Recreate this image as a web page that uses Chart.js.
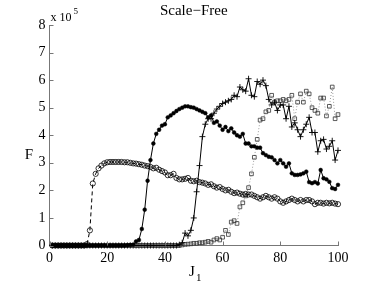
<!DOCTYPE html>
<html>
<head>
<meta charset="utf-8">
<script src="https://cdn.jsdelivr.net/npm/chart.js@4/dist/chart.umd.min.js"></script>
<style>
  html, body { margin: 0; padding: 0; background: #fff; }
  #wrap { width: 374px; height: 282px; }
</style>
</head>
<body>
<div id="wrap"><canvas id="chart" width="374" height="282"></canvas></div>
<script>
// F values in units of 1e5, one per J1 = 1..100
const jValues = Array.from({ length: 100 }, (_, i) => i + 1);

const circleSeries = [
    0, 0, 0, 0, 0, 0, 0, 0, 0, 0,
    0, 0, 0.05, 0.55, 2.25, 2.6, 2.8, 2.9, 2.98, 3.02,
    3.03, 3.03, 3.03, 3.03, 3.03, 3.02, 3.02, 3.0, 2.98, 2.97,
    2.95, 2.93, 2.9, 2.88, 2.85, 2.8, 2.82, 2.75, 2.7, 2.65,
    2.55, 2.55, 2.6, 2.45, 2.4, 2.4, 2.42, 2.45, 2.35, 2.33,
    2.35, 2.3, 2.28, 2.25, 2.2, 2.22, 2.15, 2.1, 2.12, 2.05,
    2.0, 2.02, 1.95, 1.9, 1.92, 1.88, 1.85, 1.87, 1.85, 1.85,
    1.8, 1.75, 1.7, 1.75, 1.8, 1.75, 1.7, 1.75, 1.7, 1.6,
    1.55, 1.6, 1.65, 1.7, 1.65, 1.6, 1.65, 1.6, 1.65, 1.65,
    1.6, 1.5, 1.55, 1.55, 1.52, 1.55, 1.53, 1.55, 1.52, 1.5
];

const dotSeries = [
    0, 0, 0, 0, 0, 0, 0, 0, 0, 0,
    0, 0, 0, 0, 0, 0, 0, 0, 0, 0,
    0, 0, 0, 0, 0, 0, 0.01, 0.02, 0.03, 0.15,
    0.2, 0.6, 1.3, 2.35, 3.1, 3.7, 4.05, 4.2, 4.35, 4.4,
    4.65, 4.72, 4.8, 4.88, 4.95, 5.0, 5.05, 5.05, 5.02, 5.0,
    4.95, 4.9, 4.85, 4.8, 4.65, 4.72, 4.45, 4.5, 4.35, 4.2,
    4.3, 4.15, 4.25, 4.1, 4.0, 3.95, 4.05, 3.7, 3.7, 3.6,
    3.6, 3.55, 3.55, 3.35, 3.28, 3.22, 3.2, 3.1, 2.98, 3.1,
    2.98, 2.86, 2.98, 2.62, 2.56, 2.56, 2.58, 2.62, 2.68, 2.3,
    2.26, 2.3, 2.25, 2.74, 2.44, 2.4, 2.31, 2.08, 2.05, 2.2
];

const plusSeries = [
    0, 0, 0, 0, 0, 0, 0, 0, 0, 0,
    0, 0, 0, 0, 0, 0, 0, 0, 0, 0,
    0, 0, 0, 0, 0, 0, 0, 0, 0, 0,
    0, 0, 0, 0, 0, 0, 0, 0, 0, 0,
    0, 0, 0, 0, 0.03, 0.1, 0.45, 0.35, 0.55, 1.0,
    1.95, 2.9, 3.95, 4.4, 4.6, 4.6, 4.8, 4.95, 5.05, 5.15,
    5.2, 5.25, 5.3, 5.45, 5.4, 5.75, 5.65, 5.6, 6.05, 5.45,
    5.4, 5.95, 5.85, 6.0, 5.8, 5.3, 5.1, 5.2, 4.9, 5.1,
    5.1, 4.6, 5.05, 4.3, 4.45, 4.2, 3.95, 4.2, 4.4, 4.65,
    4.1, 4.1, 3.4, 3.8, 3.85, 3.5, 3.6, 3.8, 3.1, 3.45
];

const squareSeries = [
    0, 0, 0, 0, 0, 0, 0, 0, 0, 0,
    0, 0, 0, 0, 0, 0, 0, 0, 0, 0,
    0, 0, 0, 0, 0, 0, 0, 0, 0, 0,
    0, 0, 0, 0, 0, 0, 0, 0, 0, 0,
    0, 0, 0, 0, 0, 0.02, 0.04, 0.05, 0.06, 0.08,
    0.08, 0.1, 0.1, 0.12, 0.15, 0.12, 0.2, 0.25, 0.2, 0.3,
    0.55, 0.4, 0.85, 0.9, 0.8, 1.4, 1.55, 1.8, 2.1, 2.6,
    3.2, 3.85, 4.55, 4.6, 4.85, 4.9, 5.45, 5.2, 5.25, 5.25,
    5.3, 5.25, 5.3, 5.45, 4.6, 5.2, 5.5, 5.2, 5.6, 5.5,
    5.0, 4.9, 4.8, 5.35, 5.35, 4.7, 5.05, 5.75, 4.6, 4.75
];

const xTicks = [0, 20, 40, 60, 80, 100];
const yTicks = [0, 1, 2, 3, 4, 5, 6, 7, 8];

const SERIF = "'Liberation Serif', 'DejaVu Serif', serif";
const AXIS_GREY = "#777";

function toPoints(values) {
    return values.map((v, i) => ({ x: jValues[i], y: v }));
}

// MATLAB style: inward tick marks and the axis annotations
const matlabDecor = {
    id: "matlabDecor",
    afterDraw(chart) {
        const ctx = chart.ctx;
        const xs = chart.scales.x;
        const ys = chart.scales.y;
        const area = chart.chartArea;
        ctx.save();
        ctx.strokeStyle = AXIS_GREY;
        ctx.lineWidth = 1;
        ctx.beginPath();
        xTicks.forEach((t) => {
            const px = Math.round(xs.getPixelForValue(t)) + 0.5;
            ctx.moveTo(px, area.bottom);
            ctx.lineTo(px, area.bottom - 4);
        });
        yTicks.forEach((t) => {
            const py = Math.round(ys.getPixelForValue(t)) + 0.5;
            ctx.moveTo(area.left, py);
            ctx.lineTo(area.left + 4, py);
        });
        ctx.stroke();

        ctx.fillStyle = "#000";
        ctx.textBaseline = "alphabetic";

        // title
        ctx.font = "15px " + SERIF;
        ctx.textAlign = "center";
        ctx.fillText("Scale\u2212Free", (area.left + area.right) / 2, 15);

        // exponent
        ctx.font = "12px " + SERIF;
        ctx.textAlign = "left";
        ctx.fillText("x 10", area.left + 1, 21);
        ctx.font = "9px " + SERIF;
        ctx.fillText("5", area.left + 24, 14);

        // y label
        ctx.font = "15px " + SERIF;
        ctx.textAlign = "center";
        ctx.fillText("F", 29, 159);

        // x label
        ctx.font = "15px " + SERIF;
        ctx.fillText("J", 192, 276);
        ctx.font = "11px " + SERIF;
        ctx.textAlign = "left";
        ctx.fillText("1", 196, 281);
        ctx.restore();
    }
};

const ctx = document.getElementById("chart").getContext("2d");
new Chart(ctx, {
    type: "line",
    data: {
        datasets: [
            {
                data: toPoints(circleSeries),
                borderColor: "#000",
                borderWidth: 1,
                borderDash: [4, 3],
                pointStyle: "circle",
                pointRadius: 2.6,
                pointBorderWidth: 0.8,
                pointBorderColor: "#000",
                pointBackgroundColor: "rgba(0,0,0,0)",
                tension: 0
            },
            {
                data: toPoints(dotSeries),
                borderColor: "#000",
                borderWidth: 1,
                pointStyle: "circle",
                pointRadius: 1.9,
                pointBorderWidth: 0.5,
                pointBorderColor: "#000",
                pointBackgroundColor: "#000",
                tension: 0
            },
            {
                data: toPoints(plusSeries),
                borderColor: "#000",
                borderWidth: 1,
                pointStyle: "cross",
                pointRadius: 3,
                pointBorderWidth: 0.9,
                pointBorderColor: "#000",
                tension: 0
            },
            {
                data: toPoints(squareSeries),
                borderColor: "#999",
                borderWidth: 1,
                borderDash: [1, 2],
                pointStyle: "rect",
                pointRadius: 2.6,
                pointBorderWidth: 0.8,
                pointBorderColor: "#333",
                pointBackgroundColor: "rgba(0,0,0,0)",
                tension: 0
            }
        ]
    },
    options: {
        responsive: false,
        animation: false,
        clip: false,
        layout: { padding: { top: 25, right: 36, left: 0, bottom: 0 } },
        plugins: {
            legend: { display: false },
            tooltip: { enabled: false },
            title: { display: false }
        },
        scales: {
            x: {
                type: "linear",
                min: 0,
                max: 100,
                afterFit: (scale) => { scale.height = 36.5; },
                afterBuildTicks: (scale) => { scale.ticks = xTicks.map((v) => ({ value: v })); },
                grid: { display: false, drawTicks: false },
                border: { display: true, color: AXIS_GREY, width: 1 },
                ticks: {
                    color: "#000",
                    padding: 4,
                    font: { family: SERIF, size: 14 },
                    maxRotation: 0
                }
            },
            y: {
                type: "linear",
                min: 0,
                max: 8,
                afterFit: (scale) => { scale.width = 49.5; },
                afterBuildTicks: (scale) => { scale.ticks = yTicks.map((v) => ({ value: v })); },
                grid: { display: false, drawTicks: false },
                border: { display: true, color: AXIS_GREY, width: 1 },
                ticks: {
                    color: "#000",
                    padding: 4,
                    font: { family: SERIF, size: 14 }
                }
            }
        }
    },
    plugins: [matlabDecor]
});
</script>
</body>
</html>
